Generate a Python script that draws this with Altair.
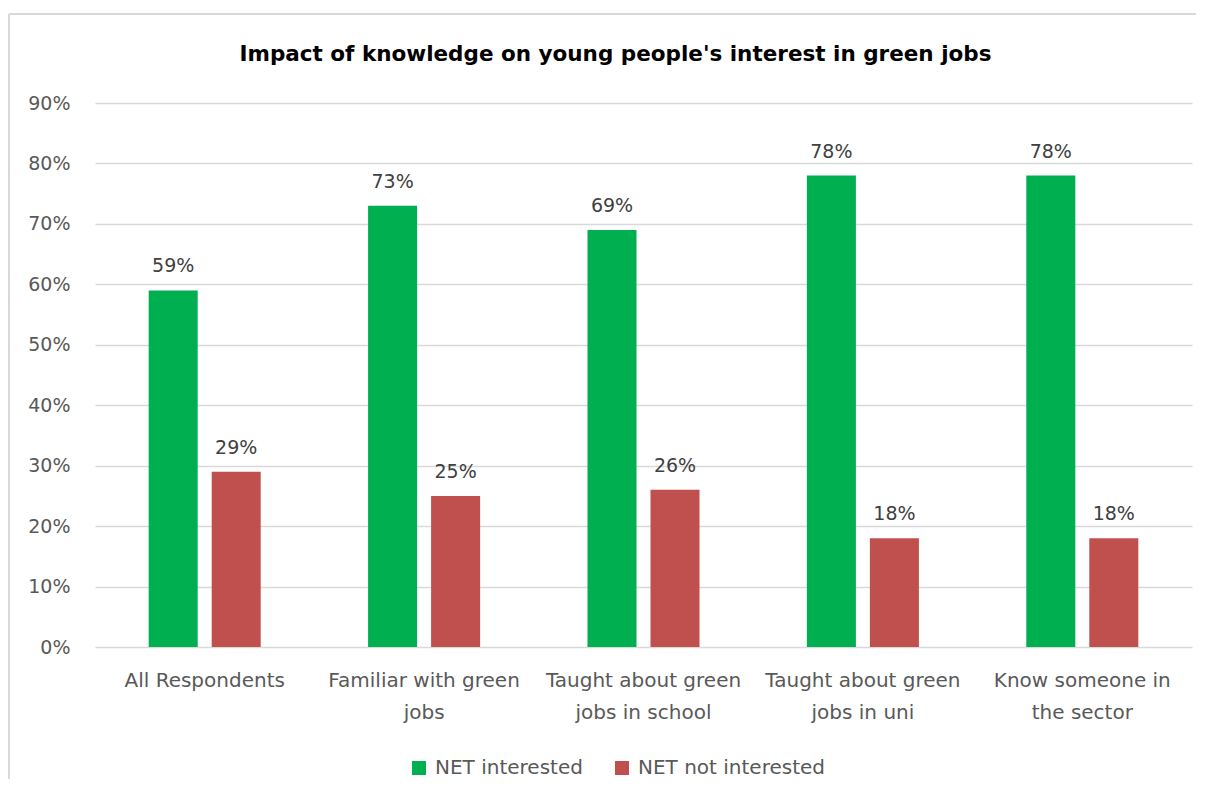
import altair as alt
import pandas as pd

categories = ["All Respondents", "Familiar with green|jobs", "Taught about green|jobs in school",
              "Taught about green|jobs in uni", "Know someone in|the sector"]
series = ["NET interested", "NET not interested"]
interested = [59, 73, 69, 78, 78]
not_interested = [29, 25, 26, 18, 18]
colors = ["#00B050", "#C0504D"]
y_ticks = [0, 10, 20, 30, 40, 50, 60, 70, 80, 90]

rows = []
for c, a, b in zip(categories, interested, not_interested):
    rows.append({"cat": c, "series": series[0], "value": a})
    rows.append({"cat": c, "series": series[1], "value": b})
df = pd.DataFrame(rows)
df["label"] = df["value"].astype(str) + "%"

FONT = "DejaVu Sans"
GRAY = "#595959"

x = alt.X("cat:N", sort=categories, title=None,
          scale=alt.Scale(paddingInner=0, paddingOuter=0),
          axis=alt.Axis(labelExpr="split(datum.value, '|')", labelAngle=0, domain=False, ticks=False,
                        labelFont=FONT, labelFontSize=20, labelColor=GRAY, labelPadding=23,
                        labelLineHeight=32, labelLimit=300))
xo = alt.XOffset("series:N", sort=series,
                 scale=alt.Scale(paddingInner=0.222, paddingOuter=0.852))
y = alt.Y("value:Q", title=None,
          scale=alt.Scale(domain=[0, 90], nice=False),
          axis=alt.Axis(values=y_ticks, labelExpr="datum.value + '%'", domain=False, ticks=False,
                        grid=True, gridColor="#D9D9D9", gridWidth=1.5,
                        labelFont=FONT, labelFontSize=19, labelColor=GRAY, labelPadding=25))

base = alt.Chart(df)

bars = base.mark_bar().encode(
    x=x, xOffset=xo, y=y,
    color=alt.Color("series:N", sort=series, title=None,
                    scale=alt.Scale(domain=series, range=colors),
                    legend=alt.Legend(orient="none", direction="horizontal", legendX=314, legendY=655,
                                      symbolType="square", symbolSize=196, symbolStrokeWidth=0,
                                      labelFont=FONT, labelFontSize=20, labelColor=GRAY,
                                      labelOffset=6, columnPadding=29, padding=0, labelLimit=400)),
)

labels = base.mark_text(dy=-18, baseline="alphabetic", font=FONT, fontSize=19, color="#404040").encode(
    x=x, xOffset=xo, y=y, text="label:N"
)

frame_v = alt.Chart(alt.Data(values=[{}])).mark_rule(color="#D9D9D9", strokeWidth=2).encode(
    x=alt.value(-86), y=alt.value(-89), y2=alt.value(700))
frame_h = alt.Chart(alt.Data(values=[{}])).mark_rule(color="#D9D9D9", strokeWidth=2).encode(
    x=alt.value(-86), x2=alt.value(1120), y=alt.value(-89))

chart = alt.layer(frame_v, frame_h, bars, labels).properties(
    width=1097, height=544,
    background="white",
    autosize=alt.AutoSizeParams(type="none"),
    padding={"left": 87, "top": 95, "right": 4, "bottom": 132},
    title=alt.TitleParams("Impact of knowledge on young people's interest in green jobs",
                          font=FONT, fontSize=21.5, fontWeight="bold", color="#000000",
                          anchor="middle", dx=-28, offset=-69, baseline="alphabetic"),
).configure_view(stroke=None)

chart.save("out.html", embed_options={"renderer": "svg", "actions": False})
